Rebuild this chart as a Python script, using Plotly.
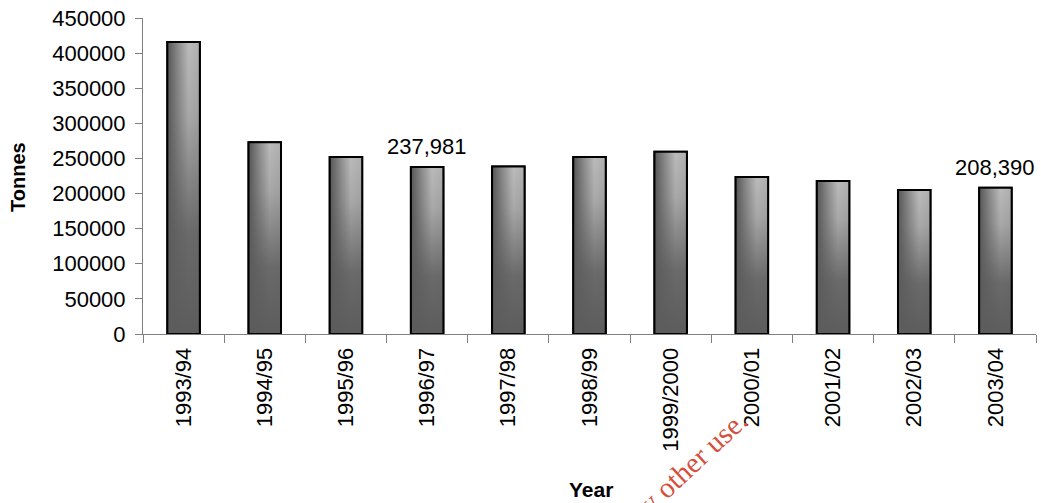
import plotly.graph_objects as go

# Annual tonnage by financial year
categories = ["1993/94", "1994/95", "1995/96", "1996/97", "1997/98", "1998/99",
              "1999/2000", "2000/01", "2001/02", "2002/03", "2003/04"]
tonnes = [416000, 273000, 252000, 237981, 238500, 252000,
          259500, 223500, 218000, 205000, 208390]
labelled_years = ["1996/97", "2003/04"]

y_ticks = list(range(0, 450001, 50000))

W, H = 1041, 503
L, R, T, B = 143, 5, 18, 169
PW, PH = W - L - R, H - T - B

FONT = "Liberation Sans, Arial, sans-serif"
AXIS_GREY = "#808080"
BAR_W = 0.4
TICK_SIZE = 22

# left-to-right sheen and a bottom-up darkening for the bars
sheen = [[0.0, "#555555"], [0.35, "#8e8e8e"], [0.65, "#bbbbbb"], [1.0, "#afafaf"]]
shadow = [[0.0, "rgba(92,92,92,1)"], [0.35, "rgba(92,92,92,0.85)"],
          [0.75, "rgba(92,92,92,0.2)"], [1.0, "rgba(92,92,92,0)"]]


def px_to_paper(px, py):
    return (px - L) / PW, (H - B - py) / PH


fig = go.Figure()

fig.add_trace(go.Bar(
    x=categories, y=tonnes, width=BAR_W,
    marker=dict(color="#8a8a8a", line=dict(color="black", width=2)),
    showlegend=False, hoverinfo="x+y",
))

outline_x, outline_y = [], []
for i, v in enumerate(tonnes):
    x0, x1 = i - BAR_W / 2, i + BAR_W / 2
    xs = [x0, x1, x1, x0, x0]
    ys = [0, 0, v, v, 0]
    fig.add_trace(go.Scatter(
        x=xs, y=ys, xaxis="x2", mode="lines", fill="toself",
        line=dict(width=0), fillcolor="#8a8a8a",
        fillgradient=dict(type="horizontal", colorscale=sheen, start=x0, stop=x1),
        showlegend=False, hoverinfo="skip",
    ))
    fig.add_trace(go.Scatter(
        x=xs, y=ys, xaxis="x2", mode="lines", fill="toself",
        line=dict(width=0), fillcolor="rgba(92,92,92,0.5)",
        fillgradient=dict(type="vertical", colorscale=shadow, start=0, stop=v),
        showlegend=False, hoverinfo="skip",
    ))
    outline_x += xs + [None]
    outline_y += ys + [None]

fig.add_trace(go.Scatter(
    x=outline_x, y=outline_y, xaxis="x2", mode="lines",
    line=dict(color="black", width=2), showlegend=False, hoverinfo="skip",
))

annotations = []
for cat, v in zip(categories, tonnes):
    if cat in labelled_years:
        annotations.append(dict(
            x=cat, y=v, xref="x", yref="y", text=f"{v:,}", showarrow=False,
            xanchor="center", yanchor="bottom", yshift=6,
            font=dict(family=FONT, size=TICK_SIZE, color="black"),
        ))

tx, ty = px_to_paper(18, 177)
annotations.append(dict(
    x=tx, y=ty, xref="paper", yref="paper", text="<b>Tonnes</b>", textangle=-90,
    xanchor="center", yanchor="middle",
    showarrow=False, font=dict(family=FONT, size=20, color="black"),
))
yx, yy = px_to_paper(591, 489)
annotations.append(dict(
    x=yx, y=yy, xref="paper", yref="paper", text="<b>Year</b>",
    xanchor="center", yanchor="middle",
    showarrow=False, font=dict(family=FONT, size=21, color="black"),
))
wx, wy = px_to_paper(693, 462)
annotations.append(dict(
    x=wx, y=wy, xref="paper", yref="paper", text="y other use.", textangle=-43,
    xanchor="center", yanchor="middle",
    showarrow=False, font=dict(family="Liberation Serif, Times New Roman, serif",
                               size=29, color="#d4503c"),
))

fig.update_layout(
    width=W, height=H,
    margin=dict(l=L, r=R, t=T, b=B, pad=0),
    paper_bgcolor="white", plot_bgcolor="white",
    font=dict(family=FONT, size=TICK_SIZE, color="black"),
    bargap=0.6,
    xaxis=dict(
        type="category", range=[-0.5, len(categories) - 0.5],
        tickson="boundaries", ticks="outside", ticklen=8, tickwidth=1,
        tickcolor=AXIS_GREY, showline=True, linecolor=AXIS_GREY, linewidth=1,
        showgrid=False, zeroline=False, tickangle=-90,
        tickfont=dict(family=FONT, size=TICK_SIZE, color="black"),
        ticklabelstandoff=4,
    ),
    xaxis2=dict(
        overlaying="x", range=[-0.5, len(categories) - 0.5],
        visible=False, showgrid=False, zeroline=False,
    ),
    yaxis=dict(
        range=[0, 450000], tickvals=y_ticks, ticktext=[str(v) for v in y_ticks],
        ticks="outside", ticklen=7, tickwidth=1, tickcolor=AXIS_GREY,
        showline=True, linecolor=AXIS_GREY, linewidth=1,
        showgrid=False, zeroline=False,
        tickfont=dict(family=FONT, size=TICK_SIZE, color="black"),
        ticklabelstandoff=5,
    ),
    annotations=annotations,
)

fig.write_html("out.html")
